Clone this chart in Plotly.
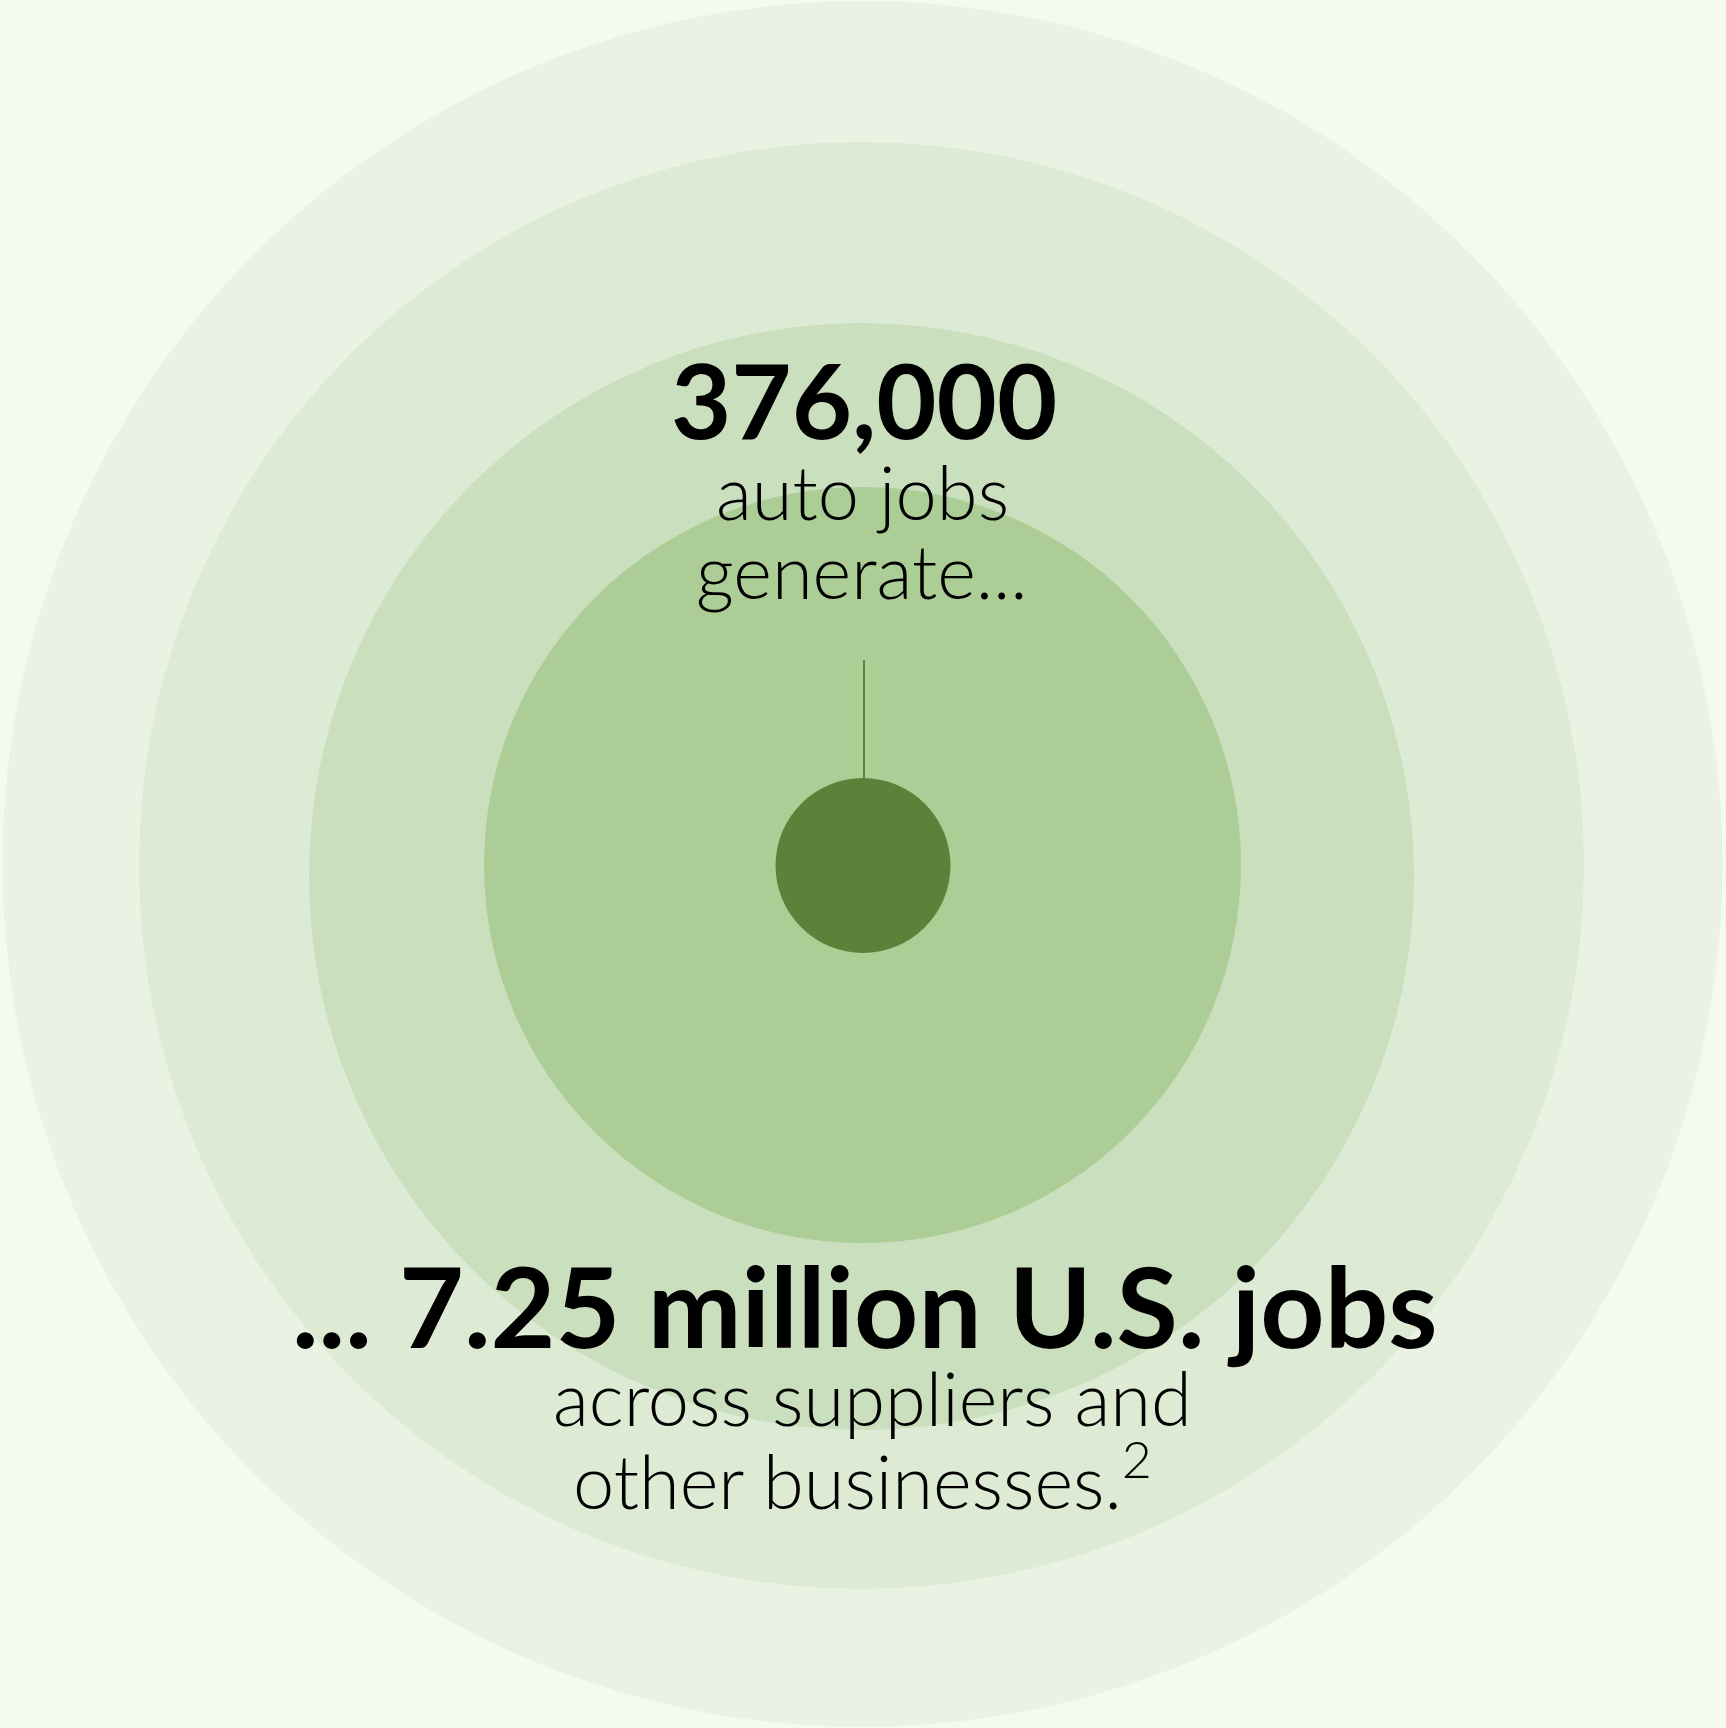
import plotly.graph_objects as go

# Job figures shown as concentric rings
headline_top = "376,000"
sub_top = ["auto jobs", "generate..."]
headline_bottom = "... 7.25 million U.S. jobs"
sub_bottom = ["across suppliers and", "other businesses.<sup>2</sup>"]

# Ring radii (pixels), outermost first, and their fills
ring_rx = [860, 722.5, 552.5, 378.5, 87.5]
ring_ry = [863, 723.5, 553.5, 378, 87.5]
ring_colors = ["#eaf3e3", "#ddebd4", "#c9dfbd", "#adcd96", "#5c823a"]

W, H = 1726, 1728
ring_cx = [862.5, 861.5, 861.5, 862.5, 863]
ring_cy = [864, 865.5, 876.5, 865, 865.5]

fig = go.Figure()

shapes = []
for cx, cy, rx, ry, col in zip(ring_cx, ring_cy, ring_rx, ring_ry, ring_colors):
    shapes.append(dict(type="circle", xref="x", yref="y",
                       x0=cx - rx, x1=cx + rx, y0=cy - ry, y1=cy + ry,
                       fillcolor=col, line=dict(width=0), layer="below"))

# connector from the caption down to the small circle
shapes.append(dict(type="line", xref="x", yref="y",
                   x0=864, x1=864, y0=660, y1=ring_cy[-1] - ring_ry[-1],
                   line=dict(color="#5c823a", width=2)))

FONT = "Lato"
SUB = 74
annotations = [
    dict(x=864, y=398, text=headline_top,
         font=dict(family=FONT, size=104, color="#000", weight=700)),
    dict(x=862, y=491, text=sub_top[0],
         font=dict(family=FONT, size=SUB, color="#000", weight=300)),
    dict(x=862, y=570, text=sub_top[1],
         font=dict(family=FONT, size=SUB, color="#000", weight=300)),
    dict(x=864, y=1304, text=headline_bottom,
         font=dict(family=FONT, size=112, color="#000", weight=700)),
    dict(x=872, y=1397, text=sub_bottom[0],
         font=dict(family=FONT, size=SUB, color="#000", weight=300)),
    dict(x=862, y=1476, text=sub_bottom[1],
         font=dict(family=FONT, size=SUB, color="#000", weight=300)),
]
for a in annotations:
    a.update(xref="x", yref="y", showarrow=False, xanchor="center", yanchor="middle")

fig.update_layout(
    width=W, height=H,
    margin=dict(l=0, r=0, t=0, b=0),
    paper_bgcolor="#f4faf0", plot_bgcolor="#f4faf0",
    shapes=shapes, annotations=annotations,
    xaxis=dict(range=[0, W], visible=False, fixedrange=True),
    yaxis=dict(range=[H, 0], visible=False, fixedrange=True),
    showlegend=False,
)

fig.write_html("out.html", config={"displayModeBar": False})
